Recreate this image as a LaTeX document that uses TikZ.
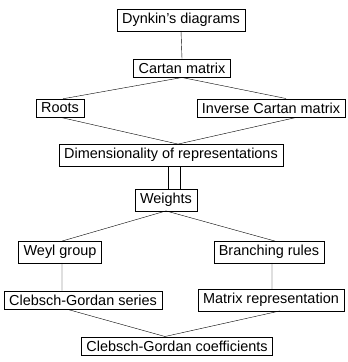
\documentclass[tikz,border=0pt]{standalone}
\usepackage{fontspec}
\setmainfont{Liberation Sans}
\tikzset{
  box/.style={draw, thin, inner xsep=5pt, inner ysep=4pt, font=\fontsize{14.5}{17}\selectfont},
  link/.style={thin}
}
\begin{document}
\begin{tikzpicture}[x=1bp,y=-1bp]
  \useasboundingbox (0,0) rectangle (348,362);
  % the boxes
  \node[box] (dynkin) at (181,20) {Dynkin's diagrams};
  \node[box] (cartan) at (182,68) {Cartan matrix};
  \node[box] (roots) at (60,108) {Roots};
  \node[box] (inverse) at (271,108) {Inverse Cartan matrix};
  \node[box] (dim) at (171,155) {Dimensionality of representations};
  \node[box] (weights) at (166,200) {Weights};
  \node[box] (weyl) at (60,252) {Weyl group};
  \node[box] (branch) at (269,252) {Branching rules};
  \node[box] (cgseries) at (83,300) {Clebsch-Gordan series};
  \node[box] (matrep) at (271,300) {Matrix representation};
  \node[box] (cgcoef) at (177,346) {Clebsch-Gordan coefficients};
  % the links
  \draw[link] (dynkin.south) -- (cartan.north);
  \draw[link] (cartan.south) -- ([xshift=3bp]roots.north);
  \draw[link] (cartan.south) -- ([xshift=15bp]inverse.north);
  \draw[link] (roots.south) -- ([xshift=7bp]dim.north);
  \draw[link] ([xshift=25bp]inverse.south) -- ([xshift=7bp]dim.north);
  \draw[link] ([xshift=2bp]weights.north) -- ([xshift=2bp]weights.north |- dim.south);
  \draw[link] ([xshift=14bp]weights.north) -- ([xshift=14bp]weights.north |- dim.south);
  \draw[link] (weights.south) -- ([xshift=2bp]weyl.north);
  \draw[link] (weights.south) -- ([xshift=6bp]branch.north);
  \draw[link] ([xshift=2bp]weyl.south) -- ([xshift=-21bp]cgseries.north);
  \draw[link] ([xshift=3bp]branch.south) -- ([xshift=1bp]matrep.north);
  \draw[link] ([xshift=-15bp]cgseries.south) -- ([xshift=-12bp]cgcoef.north);
  \draw[link] ([xshift=9bp]matrep.south) -- ([xshift=-12bp]cgcoef.north);
\end{tikzpicture}
\end{document}
